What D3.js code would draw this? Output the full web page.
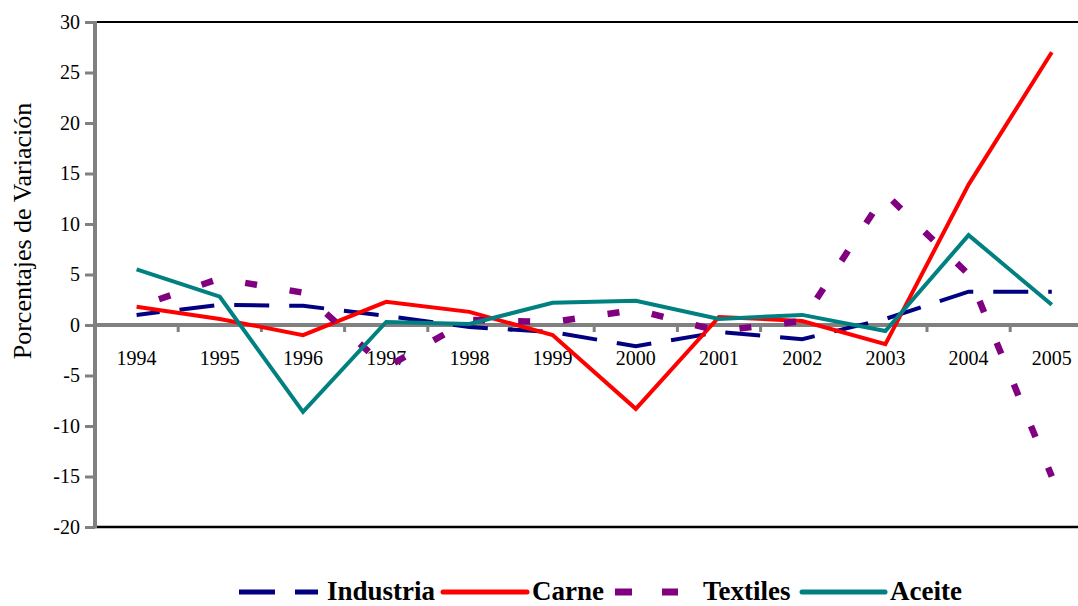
<!DOCTYPE html>
<meta charset="utf-8">
<style>
body { margin: 0; background: #fff; }
text { font-family: "Liberation Serif", "Times New Roman", serif; fill: #000; }
.legend text { font-size: 27px; font-weight: bold; }
</style>
<svg width="1078" height="606"></svg>
<script src="https://d3js.org/d3.v7.min.js"></script>
<script>

var years = ["1994","1995","1996","1997","1998","1999","2000","2001","2002","2003","2004","2005"];
var yTicks = [-20,-15,-10,-5,0,5,10,15,20,25,30];

var industria = [1.0, 2.0, 1.9, 0.9, -0.2, -0.7, -2.1, -0.7, -1.4, 0.6, 3.3, 3.3];
var carne     = [1.8, 0.6, -1.0, 2.3, 1.3, -1.0, -8.3, 0.8, 0.4, -1.9, 13.9, 27.0];
var textiles  = [1.8, 4.6, 3.2, -4.2, 0.5, 0.3, 1.5, -0.6, 0.4, 13.0, 5.0, -15.0];
var aceite    = [5.5, 2.8, -8.6, 0.3, 0.1, 2.2, 2.4, 0.6, 1.0, -0.6, 8.9, 2.0];

var series = [
  {name: "Industria", values: industria, color: "#000080", width: 4, dash: [35, 20]},
  {name: "Carne",     values: carne,     color: "#ff0000", width: 4, dash: null},
  {name: "Textiles",  values: textiles,  color: "#800080", width: 6.5, dash: [12, 33]},
  {name: "Aceite",    values: aceite,    color: "#008080", width: 4, dash: null}
];

var svg = d3.select("svg"),
    plotLeft = 95, plotTop = 22, plotBottom = 527,
    plotRight = plotLeft + 12 * 83.2;   // plot runs past the picture edge

var x = d3.scaleBand().domain(years).range([plotLeft, plotRight]);
var y = d3.scaleLinear().domain([-20, 30]).range([plotBottom, plotTop]);

// frame: black top and bottom
svg.append("line").attr("x1", plotLeft).attr("x2", plotRight)
    .attr("y1", plotTop).attr("y2", plotTop)
    .attr("stroke", "#000").attr("stroke-width", 2);
svg.append("line").attr("x1", plotLeft).attr("x2", plotRight)
    .attr("y1", plotBottom).attr("y2", plotBottom)
    .attr("stroke", "#000").attr("stroke-width", 2.5);

// y axis
var yAxis = svg.append("g")
    .attr("transform", "translate(" + plotLeft + ",0)")
    .call(d3.axisLeft(y).tickValues(yTicks).tickSize(10).tickPadding(5)
      .tickFormat(function(d) { return String(d); }));
yAxis.attr("font-family", null).attr("font-size", null);
yAxis.select(".domain").remove();
yAxis.selectAll(".tick line").attr("stroke", "#808080").attr("stroke-width", 3);
yAxis.selectAll(".tick text").style("font-size", "20px");
svg.append("line").attr("x1", plotLeft).attr("x2", plotLeft)
    .attr("y1", plotTop - 1).attr("y2", plotBottom + 1)
    .attr("stroke", "#808080").attr("stroke-width", 4);

// x axis on zero line
var xAxis = svg.append("g")
    .attr("transform", "translate(0," + y(0) + ")")
    .call(d3.axisBottom(x).tickSize(0).tickPadding(26));
xAxis.attr("font-family", null).attr("font-size", null);
xAxis.select(".domain").remove();
xAxis.selectAll(".tick line").remove();
xAxis.selectAll(".tick text").style("font-size", "20px");
xAxis.selectAll(".tick").append("line")
    .attr("x1", x.bandwidth() / 2).attr("x2", x.bandwidth() / 2)
    .attr("y1", 0).attr("y2", 7)
    .attr("stroke", "#808080").attr("stroke-width", 3);
svg.append("line").attr("x1", plotLeft).attr("x2", plotRight)
    .attr("y1", y(0)).attr("y2", y(0))
    .attr("stroke", "#808080").attr("stroke-width", 4);

// lines
var line = d3.line()
    .x(function(d, i) { return x(years[i]) + x.bandwidth() / 2; })
    .y(function(d) { return y(d); });

series.forEach(function(s) {
  var p = svg.append("path")
      .datum(s.values)
      .attr("d", line)
      .attr("fill", "none")
      .attr("stroke", s.color)
      .attr("stroke-width", s.width);
  if (s.dash) {
    // shift the pattern so the line finishes on a dash
    var period = s.dash[0] + s.dash[1],
        len = p.node().getTotalLength(),
        off = ((s.dash[0] - len % period) % period + period) % period;
    p.attr("stroke-dasharray", s.dash.join(","))
     .attr("stroke-dashoffset", -off);
  }
});

// y title
svg.append("text")
    .attr("transform", "translate(31,231) rotate(-90)")
    .attr("text-anchor", "middle")
    .style("font-size", "26px")
    .text("Porcentajes de Variación");

// legend
var legendLine = [[239, 318, "36,20"], [443, 527, null], [615, 678, "17,30"], [802, 885, null]];
var legendText = [327, 532, 703, 890];
var legend = svg.append("g").attr("class", "legend");
series.forEach(function(s, i) {
  var l = legendLine[i];
  legend.append("line").attr("x1", l[0]).attr("x2", l[1])
      .attr("y1", 592).attr("y2", 592)
      .attr("stroke", s.color)
      .attr("stroke-width", i === 2 ? 7 : 5)
      .attr("stroke-dasharray", l[2])
      .attr("stroke-linecap", l[2] ? "butt" : "round");
  legend.append("text").attr("x", legendText[i]).attr("y", 600).text(s.name);
});

</script>
